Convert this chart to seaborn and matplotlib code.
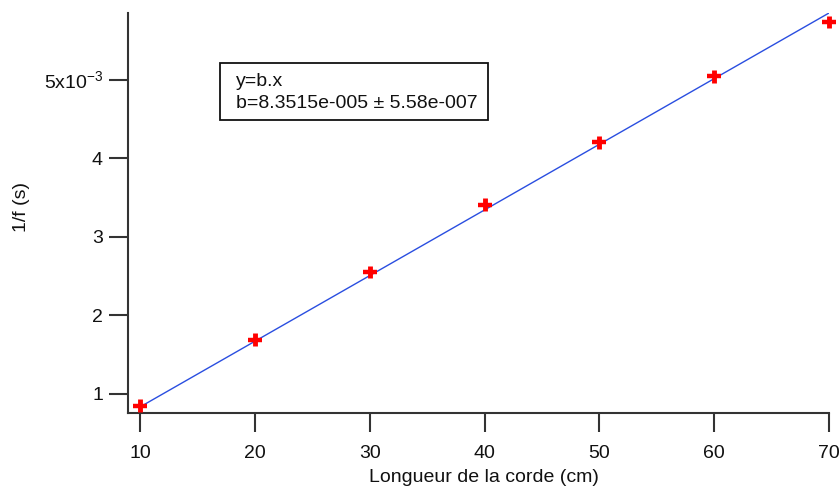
import matplotlib
matplotlib.use("Agg")
import matplotlib.pyplot as plt
import seaborn as sns
import numpy as np
import pandas as pd

# Data (y in units of 1e-3 s)
longueur = [10, 20, 30, 40, 50, 60, 70]
inv_f = [0.85, 1.69, 2.55, 3.41, 4.20, 5.04, 5.73]
inv_f_err = [0.08, 0.08, 0.08, 0.08, 0.08, 0.08, 0.08]
b_fit = 0.083515  # slope in 1e-3 s / cm
fit_x = [10, 70]

y_ticks = [1, 2, 3, 4, 5]
y_tick_labels = ["1", "2", "3", "4", "5x10$^{\\mathregular{-3}}$"]
x_ticks = [10, 20, 30, 40, 50, 60, 70]

sns.set_theme(style="white")
plt.rcParams["font.family"] = ["Liberation Sans", "DejaVu Sans"]
plt.rcParams["mathtext.fontset"] = "custom"
plt.rcParams["mathtext.rm"] = "Liberation Sans"

FS = 14
W, H = 839, 488
fig = plt.figure(figsize=(W / 100, H / 100), dpi=100)
ax = fig.add_axes([128 / W, (H - 413) / H, (829 - 128) / W, (413 - 13) / H])

fit_df = pd.DataFrame({"x": fit_x, "y": [b_fit * v for v in fit_x]})
sns.lineplot(data=fit_df, x="x", y="y", ax=ax, color="#2a4ee0", linewidth=1.0)

eb = ax.errorbar(longueur, inv_f, yerr=inv_f_err, fmt="none", ecolor="#ff0000",
                 elinewidth=3.5, capsize=0, zorder=3)
for coll in eb.lines[2]:
    coll.set_clip_on(False)
sns.scatterplot(x=longueur, y=inv_f, ax=ax, marker="_", s=95, color="#ff0000",
                linewidth=3.2, zorder=4, clip_on=False)

ax.set_xlim(8.95, 70.0)
ax.set_ylim(0.758, 5.846)
ax.set_xticks(x_ticks)
ax.set_xticklabels([str(v) for v in x_ticks])
ax.set_yticks(y_ticks)
ax.set_yticklabels(y_tick_labels)

for side in ["top", "right"]:
    ax.spines[side].set_visible(False)
for side in ["left", "bottom"]:
    ax.spines[side].set_color("#333333")
    ax.spines[side].set_linewidth(1.5)

ax.tick_params(axis="both", which="major", direction="out", length=14, width=1.5,
               color="#333333", labelsize=FS, labelcolor="#111111",
               left=True, bottom=True)
ax.tick_params(axis="x", pad=9)
ax.tick_params(axis="y", pad=4)

ax.set_xlabel("Longueur de la corde (cm)", fontsize=FS, color="#111111")
ax.set_ylabel("1/f (s)", fontsize=FS, color="#111111")
ax.xaxis.label.set_va("center")
ax.yaxis.label.set_ha("center")
ax.yaxis.label.set_va("center")
ax.xaxis.set_label_coords((484 - 128) / 701, (413 - 477) / 400)
ax.yaxis.set_label_coords((22 - 128) / 701, (413 - 207) / 400)

ax.text(236 / W, (H - 81) / H, "y=b.x", transform=fig.transFigure,
        fontsize=FS, color="#111111", va="center", ha="left")
ax.text(236 / W, (H - 104) / H, "b=8.3515e-005 \u00b1 5.58e-007",
        transform=fig.transFigure, fontsize=FS, color="#111111",
        va="center", ha="left")
box_x = [220, 488]
box_y = [63, 120]
rect = plt.Rectangle((box_x[0] / W, (H - box_y[1]) / H), (box_x[1] - box_x[0]) / W,
                     (box_y[1] - box_y[0]) / H, transform=fig.transFigure,
                     fill=False, edgecolor="#111111", linewidth=1.3)
fig.add_artist(rect)

fig.savefig("out.png", dpi=100)
